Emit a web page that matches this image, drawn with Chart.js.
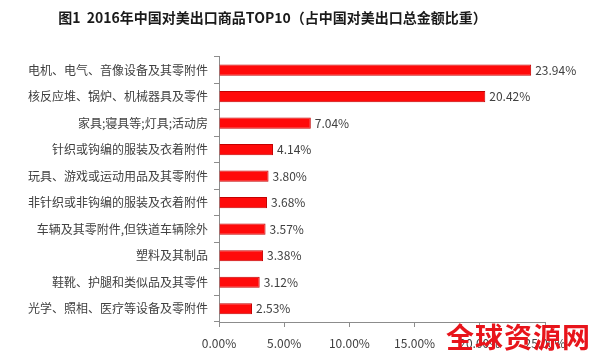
<!DOCTYPE html>
<html>
<head>
<meta charset="utf-8">
<script src="https://cdn.jsdelivr.net/npm/chart.js@4"></script>
<style>
  body { margin: 0; background: #fff; }
  #wrap { position: relative; width: 600px; height: 359px; }
  #mark {
    position: absolute; left: 446px; top: 319px; white-space: nowrap;
    font: bold 28px "Noto Sans CJK SC", sans-serif; color: #e8141b;
    letter-spacing: 1px; line-height: 34px;
  }
</style>
</head>
<body>
<div id="wrap">
  <canvas id="chart" width="600" height="359"></canvas>
  <div id="mark">全球资源网</div>
</div>
<script>
// data
const categories = [
  "电机、电气、音像设备及其零附件",
  "核反应堆、锅炉、机械器具及零件",
  "家具;寝具等;灯具;活动房",
  "针织或钩编的服装及衣着附件",
  "玩具、游戏或运动用品及其零附件",
  "非针织或非钩编的服装及衣着附件",
  "车辆及其零附件,但铁道车辆除外",
  "塑料及其制品",
  "鞋靴、护腿和类似品及其零件",
  "光学、照相、医疗等设备及零附件"
];
const shares = [23.94, 20.42, 7.04, 4.14, 3.80, 3.68, 3.57, 3.38, 3.12, 2.53];
const xTicks = [0, 5, 10, 15, 20, 25];

const font = "'Noto Sans CJK SC', sans-serif";
const axisGrey = '#8c8c8c';

// value labels at the end of each bar
const barLabels = {
  id: 'barLabels',
  afterDatasetsDraw(chart) {
    const ctx = chart.ctx;
    const meta = chart.getDatasetMeta(0);
    ctx.save();
    ctx.font = '12px ' + font;
    ctx.fillStyle = '#404040';
    ctx.textAlign = 'left';
    ctx.textBaseline = 'middle';
    meta.data.forEach((bar, i) => {
      ctx.fillText(shares[i].toFixed(2) + '%', bar.x + 4, bar.y);
    });
    ctx.restore();
  }
};

new Chart(document.getElementById('chart'), {
  type: 'bar',
  data: {
    labels: categories,
    datasets: [{
      data: shares,
      backgroundColor: '#ff0a0a',
      borderColor: '#c40000',
      borderWidth: 1,
      categoryPercentage: 1,
      barPercentage: 0.42
    }]
  },
  options: {
    indexAxis: 'y',
    responsive: false,
    animation: false,
    layout: { padding: { left: 0, right: 55, top: 0, bottom: 0 } },
    plugins: {
      legend: { display: false },
      tooltip: { enabled: false },
      title: {
        display: true,
        text: '图1  2016年中国对美出口商品TOP10（占中国对美出口总金额比重）',
        color: '#1a1a1a',
        font: { family: font, size: 14, weight: 'bold' },
        padding: { top: 9, bottom: 31 }
      }
    },
    scales: {
      x: {
        min: 0,
        max: 25,
        afterBuildTicks: s => { s.ticks = xTicks.map(v => ({ value: v })); },
        afterFit: s => { s.height = 37; },
        border: { color: axisGrey, width: 1 },
        grid: { drawOnChartArea: false, drawTicks: true, tickLength: 5, color: axisGrey },
        ticks: {
          color: '#404040',
          padding: 9,
          font: { family: font, size: 12 },
          callback: v => v.toFixed(2) + '%'
        }
      },
      y: {
        afterFit: s => { s.width = 219; },
        border: { color: axisGrey, width: 1 },
        grid: { offset: true, drawOnChartArea: false, drawTicks: true, tickLength: 5, color: axisGrey },
        ticks: {
          color: '#404040',
          padding: 6,
          font: { family: font, size: 12 }
        }
      }
    }
  },
  plugins: [barLabels]
});
</script>
</body>
</html>
